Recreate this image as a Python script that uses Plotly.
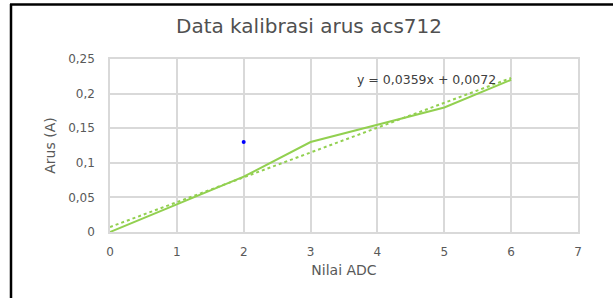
import plotly.graph_objects as go

# Data
nilai_adc = [0, 1, 2, 3, 4, 5, 6]
arus = [0.0, 0.04, 0.08, 0.13, 0.155, 0.18, 0.22]
titik_x = [2]
titik_y = [0.13]
slope = 0.0359
intercept = 0.0072
trend_x = [0, 6]
x_ticks = [0, 1, 2, 3, 4, 5, 6, 7]
y_ticks = [0, 0.05, 0.1, 0.15, 0.2, 0.25]

green = "#92d050"
gray_text = "#595959"
grid = "#d9d9d9"
FONT = "DejaVu Sans, Liberation Sans, sans-serif"

fig = go.Figure()
fig.add_trace(go.Scatter(
    x=trend_x, y=[slope * v + intercept for v in trend_x],
    mode="lines", line=dict(color=green, width=2, dash="dot"),
    showlegend=False, hoverinfo="skip"))
fig.add_trace(go.Scatter(
    x=nilai_adc, y=arus, mode="lines",
    line=dict(color=green, width=2), showlegend=False))
fig.add_trace(go.Scatter(
    x=titik_x, y=titik_y, mode="markers",
    marker=dict(color="#0000ff", size=4), showlegend=False))

L, R, T, B = 110, 35, 59, 66
W, H = 613, 298
pw, ph = W - L - R, H - T - B

def px(xp):
    return (xp - L) / pw

def py(yp):
    return (H - B - yp) / ph

fig.update_layout(
    width=W, height=H,
    margin=dict(l=L, r=R, t=T, b=B, pad=0),
    paper_bgcolor="white", plot_bgcolor="white",
    separators=",.",
    font=dict(family=FONT, color=gray_text, size=12),
    title=dict(text="Data kalibrasi arus acs712", x=309 / W, xanchor="center",
               y=1 - 26 / H, yanchor="middle",
               font=dict(family=FONT, size=20, color="#505050")),
    xaxis=dict(range=[0, 7], tickvals=x_ticks, showgrid=True, gridcolor=grid,
               gridwidth=1.5, zeroline=False, showline=True, linecolor=grid,
               linewidth=1.5, mirror=True, ticks="outside", ticklen=8,
               tickcolor="rgba(0,0,0,0)",
               title=dict(text="Nilai ADC", font=dict(family=FONT, size=14, color=gray_text), standoff=7),
               tickfont=dict(family=FONT, size=12, color=gray_text)),
    yaxis=dict(range=[0, 0.25], tickvals=y_ticks, showgrid=True, gridcolor=grid,
               gridwidth=1.5, zeroline=False, showline=True, linecolor=grid,
               linewidth=1.5, mirror=True, ticks="outside", ticklen=11,
               tickcolor="rgba(0,0,0,0)",
               title=dict(text="Arus (A)", font=dict(family=FONT, size=14, color=gray_text), standoff=9),
               tickfont=dict(family=FONT, size=12, color=gray_text)),
    annotations=[dict(
        x=4.73, y=0.2197, xref="x", yref="y", showarrow=False,
        text="y = 0,0359x + 0,0072", font=dict(family=FONT, size=12.5, color="#404040"),
        xanchor="center", yanchor="middle")],
    shapes=[
        dict(type="line", xref="paper", yref="paper", x0=px(11), x1=px(11),
             y0=py(4), y1=py(H + 2), line=dict(color="black", width=2.5)),
        dict(type="line", xref="paper", yref="paper", x0=px(10), x1=px(W + 2),
             y0=py(4.5), y1=py(4.5), line=dict(color="black", width=2.5)),
    ],
)

fig.write_html("out.html", config={"displayModeBar": False},
               post_script="document.body.style.margin='0';")
